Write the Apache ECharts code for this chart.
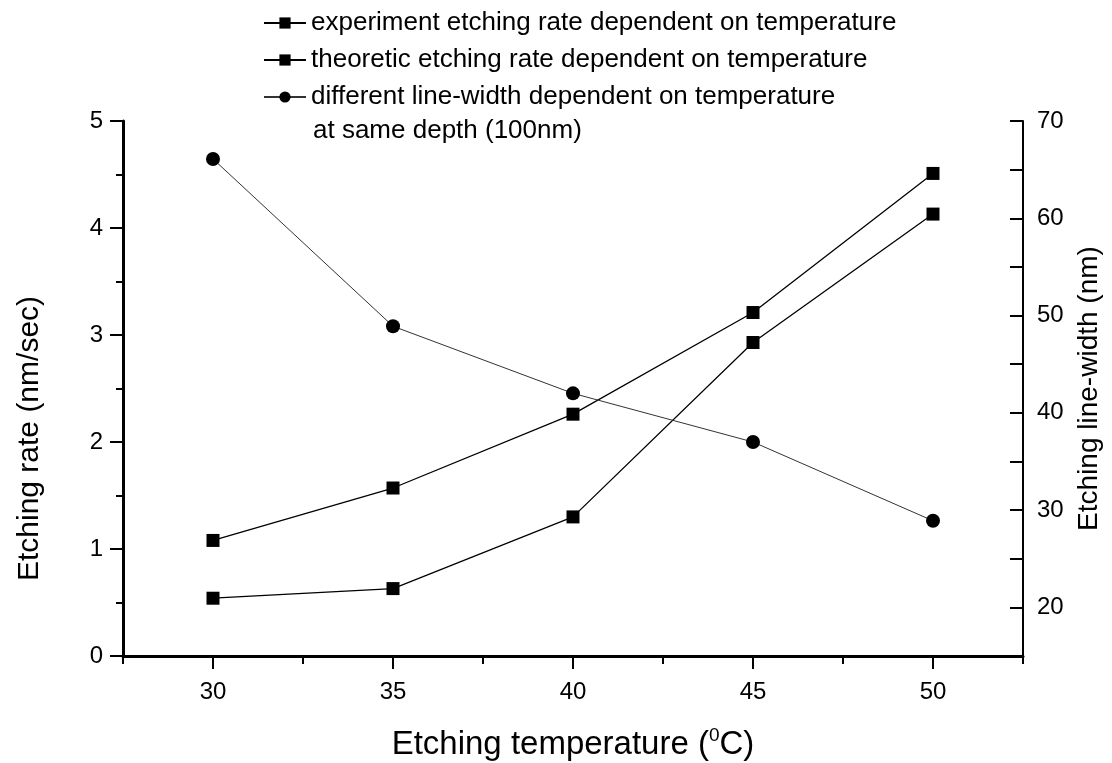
<!DOCTYPE html>
<html lang="en">
<head>
    <meta charset="UTF-8">
    <title>Etching rate / line-width vs temperature</title>
    <script src="https://cdn.jsdelivr.net/npm/echarts@6/dist/echarts.min.js"></script>
    <style>
        html, body { margin: 0; padding: 0; background: #fff; }
        #chart { width: 1112px; height: 763px; }
    </style>
</head>
<body>
<div id="chart"></div>
<script>

    // temperatures (deg C)
    var temps = [30, 35, 40, 45, 50];
    // etching rate, nm/sec (left axis)
    var experimentRate = [0.54, 0.63, 1.30, 2.93, 4.13];
    var theoreticRate = [1.08, 1.57, 2.26, 3.21, 4.51];
    // line-width, nm (right axis)
    var lineWidth = [66.1, 48.9, 42.0, 37.0, 28.9];

    var xMajorTicks = [30, 35, 40, 45, 50];
    var xMinorTicks = [27.5, 32.5, 37.5, 42.5, 47.5, 52.5];

    var names = [
        'experiment etching rate dependent on temperature',
        'theoretic etching rate dependent on temperature',
        'different line-width dependent on temperature'
    ];

    var pairs = function (xs, ys) {
        return xs.map(function (x, i) { return [x, ys[i]]; });
    };

    var font = '"Liberation Sans", Arial, sans-serif';

    var chart = echarts.init(document.getElementById('chart'), null, {renderer: 'canvas'});

    var option = {
        animation: false,
        backgroundColor: '#fff',
        textStyle: {fontFamily: font, color: '#000'},
        grid: {left: 123, right: 89, top: 121, bottom: 107, outerBoundsMode: 'none', containLabel: false},
        legend: {
            data: names,
            orient: 'vertical',
            left: 258,
            top: 4,
            itemWidth: 42,
            itemHeight: 14,
            itemGap: 9,
            textStyle: {fontFamily: font, fontSize: 26, lineHeight: 28, color: '#000'}
        },
        graphic: [{
            type: 'text',
            left: 313,
            top: 118,
            style: {text: 'at same depth (100nm)', font: '26px ' + font, fill: '#000'}
        }],
        xAxis: [{
            type: 'value',
            min: 27.5,
            max: 52.5,
            position: 'bottom',
            name: 'Etching temperature ({sup|0}C)',
            nameLocation: 'middle',
            nameGap: 70,
            nameTextStyle: {
                fontFamily: font, fontSize: 33, color: '#000',
                rich: {sup: {fontFamily: font, fontSize: 19, padding: [0, 0, 18, 0], color: '#000'}}
            },
            axisLine: {lineStyle: {color: '#000', width: 3}},
            axisTick: {length: 13, lineStyle: {color: '#000', width: 2}, customValues: xMajorTicks},
            axisLabel: {fontSize: 24, color: '#000', margin: 24, customValues: xMajorTicks},
            splitLine: {show: false}
        }, {
            type: 'value',
            min: 27.5,
            max: 52.5,
            position: 'bottom',
            offset: 0,
            axisLine: {show: false},
            axisTick: {length: 8, lineStyle: {color: '#000', width: 2}, customValues: xMinorTicks},
            axisLabel: {show: false},
            splitLine: {show: false}
        }],
        yAxis: [{
            type: 'value',
            min: 0,
            max: 5,
            interval: 1,
            position: 'left',
            name: 'Etching rate (nm/sec)',
            nameLocation: 'middle',
            nameRotate: 90,
            nameGap: 78,
            nameTextStyle: {fontFamily: font, fontSize: 30, color: '#000', padding: [0, 100, 0, 0]},
            axisLine: {show: true, lineStyle: {color: '#000', width: 3}},
            axisTick: {show: true, length: 13, lineStyle: {color: '#000', width: 2}},
            minorTick: {show: true, splitNumber: 2, length: 7, lineStyle: {color: '#000', width: 2}},
            axisLabel: {fontSize: 24, color: '#000', margin: 20},
            splitLine: {show: false}
        }, {
            type: 'value',
            min: 15,
            max: 70,
            interval: 5,
            position: 'right',
            name: 'Etching line-width (nm)',
            nameLocation: 'middle',
            nameRotate: 90,
            nameGap: 52,
            nameTextStyle: {fontFamily: font, fontSize: 28, color: '#000'},
            axisLine: {show: true, lineStyle: {color: '#000', width: 2}},
            axisTick: {show: true, inside: true, length: 13, lineStyle: {color: '#000', width: 2}},
            axisLabel: {
                fontSize: 24, color: '#000', margin: 14,
                formatter: function (v) { return (v % 10 === 0) ? String(v) : ''; }
            },
            splitLine: {show: false}
        }],
        series: [
            {
                name: names[0],
                type: 'line',
                xAxisIndex: 0,
                yAxisIndex: 0,
                symbol: 'rect',
                symbolSize: 13,
                itemStyle: {color: '#000'},
                lineStyle: {color: '#000', width: 1.3},
                data: pairs(temps, experimentRate)
            },
            {
                name: names[1],
                type: 'line',
                xAxisIndex: 0,
                yAxisIndex: 0,
                symbol: 'rect',
                symbolSize: 13,
                itemStyle: {color: '#000'},
                lineStyle: {color: '#000', width: 1.3},
                data: pairs(temps, theoreticRate)
            },
            {
                name: names[2],
                type: 'line',
                xAxisIndex: 0,
                yAxisIndex: 1,
                symbol: 'circle',
                symbolSize: 14,
                itemStyle: {color: '#000'},
                lineStyle: {color: '#333', width: 1},
                data: pairs(temps, lineWidth)
            }
        ]
    };

    chart.setOption(option);

</script>
</body>
</html>
